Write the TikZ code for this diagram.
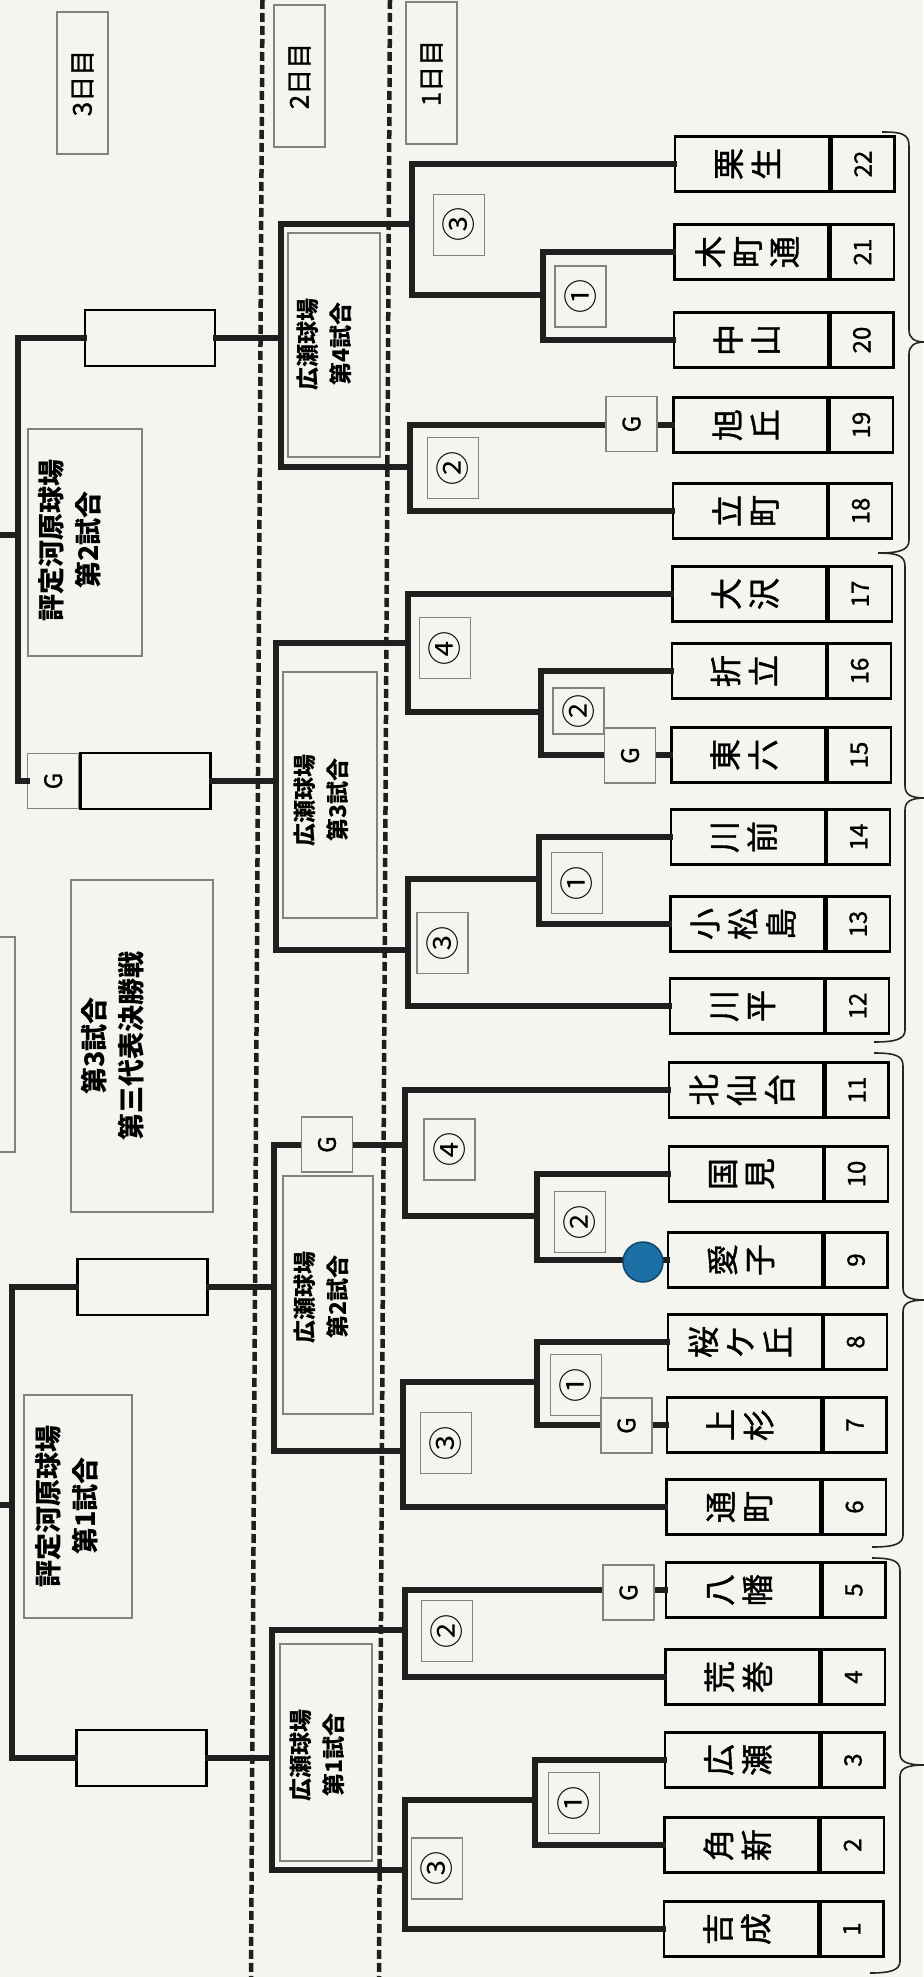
\documentclass[tikz,border=0pt]{standalone}
\usepackage{fontspec}
\setmainfont{Noto Sans CJK JP}
\newfontfamily\heavyjp[FakeBold=1.2]{Noto Sans CJK JP}
\usepackage{tikz}
\usetikzlibrary{positioning}
\definecolor{paper}{RGB}{245,244,239}
\definecolor{boxgray}{RGB}{130,130,130}
\definecolor{dotblue}{RGB}{28,112,166}
\definecolor{dotedge}{RGB}{15,70,110}
\newcommand{\tate}[1]{\rotatebox{90}{\begin{tabular}{@{}c@{}}#1\end{tabular}}}
\newcommand{\yoko}[1]{\rotatebox{90}{#1}}
\tikzset{
  bracket/.style={line width=6pt, line join=miter, line cap=rect, color=black!88},
  teamname/.style={draw, line width=2.4pt, fill=paper, minimum width=154pt, minimum height=55pt, inner sep=0pt, font=\heavyjp\fontsize{32}{37}\selectfont},
  teamnum/.style={draw, line width=2.4pt, fill=paper, minimum width=63pt, minimum height=55pt, inner sep=0pt, font=\heavyjp\fontsize{24}{26}\selectfont},
  matchbox/.style={draw=boxgray, line width=1.2pt, fill=paper, minimum width=51pt, minimum height=61pt, inner sep=0pt, font=\fontsize{34}{36}\selectfont},
  gbox/.style={draw=boxgray, line width=1.2pt, fill=paper, minimum width=51pt, minimum height=55pt, inner sep=0pt, font=\heavyjp\fontsize{24}{26}\selectfont},
  resultbox/.style={draw, line width=2.4pt, fill=paper, minimum width=130pt, minimum height=56pt, inner sep=0pt},
  venuebox/.style={draw=boxgray, line width=1.2pt, inner sep=0pt},
  venuetext/.style={inner sep=0pt, font=\fontsize{23}{33}\selectfont\bfseries},
  mainvenue/.style={inner sep=0pt, font=\fontsize{27}{37}\selectfont\bfseries},
  daybox/.style={draw=boxgray, line width=1.2pt, fill=paper, minimum width=51pt, minimum height=142pt, inner sep=0pt, font=\heavyjp\fontsize{26}{28}\selectfont},
  daysplit/.style={line width=4.5pt, dash pattern=on 9pt off 4pt, color=black!88},
  groupbrace/.style={line width=1.6pt, color=black!85},
  bluedot/.style={circle, fill=dotblue, draw=dotedge, line width=1.5pt, minimum size=40pt, inner sep=0pt}
}

\begin{document}
\begin{tikzpicture}[x=1pt, y=-1pt]

\fill[paper] (0,0) rectangle (923,1977);
\useasboundingbox (0,0) rectangle (923,1977);

\draw[daysplit] (262.5,0) -- (251,1977);
\draw[daysplit] (390,0) -- (379,1977);

\node[daybox] (d3) at (82.5,83) {\yoko{3日目}};
\node[daybox] (d2) at (299.5,76) {\yoko{2日目}};
\node[daybox] (d1) at (431.5,73) {\yoko{1日目}};

% teams
\node[teamname] (t22) at (752.0,164) {\tate{栗\\生}};
\node[teamnum, right=0pt of t22] (n22) {\yoko{22}};
\node[teamname] (t21) at (751.5,252) {\tate{木\\町\\通}};
\node[teamnum, right=0pt of t21] (n21) {\yoko{21}};
\node[teamname] (t20) at (750.9,340) {\tate{中\\山}};
\node[teamnum, right=0pt of t20] (n20) {\yoko{20}};
\node[teamname] (t19) at (750.4,425) {\tate{旭\\丘}};
\node[teamnum, right=0pt of t19] (n19) {\yoko{19}};
\node[teamname] (t18) at (749.8,511) {\tate{立\\町}};
\node[teamnum, right=0pt of t18] (n18) {\yoko{18}};
\node[teamname] (t17) at (749.3,594) {\tate{大\\沢}};
\node[teamnum, right=0pt of t17] (n17) {\yoko{17}};
\node[teamname] (t16) at (748.8,671) {\tate{折\\立}};
\node[teamnum, right=0pt of t16] (n16) {\yoko{16}};
\node[teamname] (t15) at (748.3,755) {\tate{東\\六}};
\node[teamnum, right=0pt of t15] (n15) {\yoko{15}};
\node[teamname] (t14) at (747.8,837) {\tate{川\\前}};
\node[teamnum, right=0pt of t14] (n14) {\yoko{14}};
\node[teamname] (t13) at (747.3,924) {\tate{小\\松\\島}};
\node[teamnum, right=0pt of t13] (n13) {\yoko{13}};
\node[teamname] (t12) at (746.8,1006) {\tate{川\\平}};
\node[teamnum, right=0pt of t12] (n12) {\yoko{12}};
\node[teamname] (t11) at (746.2,1090) {\tate{北\\仙\\台}};
\node[teamnum, right=0pt of t11] (n11) {\yoko{11}};
\node[teamname] (t10) at (745.7,1174) {\tate{国\\見}};
\node[teamnum, right=0pt of t10] (n10) {\yoko{10}};
\node[teamname] (t9) at (745.2,1260) {\tate{愛\\子}};
\node[teamnum, right=0pt of t9] (n9) {\yoko{9}};
\node[teamname] (t8) at (744.7,1342) {\tate{桜\\ケ\\丘}};
\node[teamnum, right=0pt of t8] (n8) {\yoko{8}};
\node[teamname] (t7) at (744.1,1425) {\tate{上\\杉}};
\node[teamnum, right=0pt of t7] (n7) {\yoko{7}};
\node[teamname] (t6) at (743.6,1507) {\tate{通\\町}};
\node[teamnum, right=0pt of t6] (n6) {\yoko{6}};
\node[teamname] (t5) at (743.1,1590) {\tate{八\\幡}};
\node[teamnum, right=0pt of t5] (n5) {\yoko{5}};
\node[teamname] (t4) at (742.6,1677) {\tate{荒\\巻}};
\node[teamnum, right=0pt of t4] (n4) {\yoko{4}};
\node[teamname] (t3) at (742.1,1760) {\tate{広\\瀬}};
\node[teamnum, right=0pt of t3] (n3) {\yoko{3}};
\node[teamname] (t2) at (741.5,1845) {\tate{角\\新}};
\node[teamnum, right=0pt of t2] (n2) {\yoko{2}};
\node[teamname] (t1) at (741.0,1929) {\tate{吉\\成}};
\node[teamnum, right=0pt of t1] (n1) {\yoko{1}};

% venues
\node[venuebox, minimum width=92pt, minimum height=224pt] (v4) at (334,345) {};
\node[venuetext] (v4t) at (326,344) {\tate{広瀬球場\\第4試合}};
\node[venuebox, minimum width=94pt, minimum height=246pt] (v3) at (330,795) {};
\node[venuetext] (v3t) at (323,800) {\tate{広瀬球場\\第3試合}};
\node[venuebox, minimum width=90pt, minimum height=238pt] (v2) at (328,1295) {};
\node[venuetext] (v2t) at (323,1297) {\tate{広瀬球場\\第2試合}};
\node[venuebox, minimum width=92pt, minimum height=217pt] (v1) at (326,1752.5) {};
\node[venuetext] (v1t) at (319,1755) {\tate{広瀬球場\\第1試合}};

\node[venuebox, minimum width=114pt, minimum height=227pt] (h2) at (85,542.5) {};
\node[mainvenue] (h2t) at (73,540) {\tate{評定河原球場\\第2試合}};
\node[venuebox, minimum width=108pt, minimum height=223pt] (h1) at (78,1506.5) {};
\node[mainvenue] (h1t) at (69.5,1506) {\tate{評定河原球場\\第1試合}};
\node[venuebox, minimum width=142pt, minimum height=332pt] (h3) at (142,1046) {};
\node[mainvenue] (h3t) at (116,1046) {\tate{第3試合\\第三代表決勝戦}};
\draw[draw=boxgray, line width=1.2pt] (-20,937) rectangle (15,1152);

% winners
\node[resultbox] (r4) at (150,338) {};
\node[resultbox] (r3) at (145.5,781) {};
\node[gbox, left=0pt of r3] (g3f) {\yoko{G}};
\node[resultbox] (r2) at (142.5,1287) {};
\node[resultbox] (r1) at (141.5,1758) {};

% section 4
\coordinate (j4a) at (543,295);
\coordinate (j4c) at (412,224);
\coordinate (j4b) at (410,467);
\coordinate (j4) at (281,338);
\draw[bracket] (t21.west) -| (j4a) |- (t20.west);
\draw[bracket] (t22.west) -| (j4c) |- (j4a);
\draw[bracket] (t19.west) -| (j4b) |- (t18.west);
\draw[bracket] (j4c) -| (j4) |- (j4b);
\draw[bracket] (j4) -- (r4.east);

% section 3
\coordinate (j3a) at (539,879);
\coordinate (j3b) at (541,712);
\coordinate (j3d) at (408,643);
\coordinate (j3c) at (408,950);
\coordinate (j3) at (276,781);
\draw[bracket] (t14.west) -| (j3a) |- (t13.west);
\draw[bracket] (t16.west) -| (j3b) |- (t15.west);
\draw[bracket] (t17.west) -| (j3d) |- (j3b);
\draw[bracket] (j3a) -| (j3c) |- (t12.west);
\draw[bracket] (j3d) -| (j3) |- (j3c);
\draw[bracket] (j3) -- (r3.east);

% section 2
\coordinate (j2a) at (537,1382);
\coordinate (j2b) at (537,1216);
\coordinate (j2d) at (405,1145);
\coordinate (j2c) at (403,1451);
\coordinate (j2) at (274,1287);
\draw[bracket] (t8.west) -| (j2a) |- (t7.west);
\draw[bracket] (t10.west) -| (j2b) |- (t9.west);
\draw[bracket] (t11.west) -| (j2d) |- (j2b);
\draw[bracket] (j2a) -| (j2c) |- (t6.west);
\draw[bracket] (j2d) -| (j2) |- (j2c);
\draw[bracket] (j2) -- (r2.east);

% section 1
\coordinate (j1a) at (535,1800);
\coordinate (j1c) at (405,1870);
\coordinate (j1b) at (405,1630);
\coordinate (j1) at (272,1758);
\draw[bracket] (t3.west) -| (j1a) |- (t2.west);
\draw[bracket] (j1a) -| (j1c) |- (t1.west);
\draw[bracket] (t5.west) -| (j1b) |- (t4.west);
\draw[bracket] (j1b) -| (j1) |- (j1c);
\draw[bracket] (j1) -- (r1.east);

% finals
\coordinate (f2) at (18,535);
\coordinate (f2end) at (0,535);
\draw[bracket] (r4.west) -| (f2) |- (g3f.west);
\draw[bracket] (f2) -- (f2end);
\coordinate (f1) at (12,1505);
\coordinate (f1end) at (0,1505);
\draw[bracket] (r2.west) -| (f1) |- (r1.west);
\draw[bracket] (f1) -- (f1end);

% match numbers
\node[matchbox] (m4a) at (580.5,296.5) {\yoko{①}};
\node[matchbox] (m4c) at (459,225) {\yoko{③}};
\node[matchbox] (m4b) at (453,468) {\yoko{②}};
\node[matchbox] (m3a) at (577,883) {\yoko{①}};
\node[matchbox, minimum height=46pt] (m3b) at (578.5,711) {\yoko{②}};
\node[matchbox] (m3d) at (445,648) {\yoko{④}};
\node[matchbox] (m3c) at (442.5,943) {\yoko{③}};
\node[matchbox] (m2a) at (576,1385) {\yoko{①}};
\node[matchbox] (m2b) at (580,1222) {\yoko{②}};
\node[matchbox] (m2d) at (449.5,1149.5) {\yoko{④}};
\node[matchbox] (m2c) at (446,1443) {\yoko{③}};
\node[matchbox] (m1a) at (574,1803) {\yoko{①}};
\node[matchbox] (m1c) at (437,1868.5) {\yoko{③}};
\node[matchbox] (m1b) at (447,1631) {\yoko{②}};

\node[gbox] (g19) at (631.5,424) {\yoko{G}};
\node[gbox] (g15) at (630,755.5) {\yoko{G}};
\node[gbox] (g7) at (626.5,1425.5) {\yoko{G}};
\node[gbox] (g5) at (628.5,1592.5) {\yoko{G}};
\node[gbox] (g2d) at (327,1144.5) {\yoko{G}};

\node[bluedot] (dot9) at (643,1262) {};

% groups
\draw[groupbrace] (882,132) .. controls (902,132) and (909,134) .. (909,146) -- (909,330) .. controls (909,338) and (914,342) .. (925,342) .. controls (914,342) and (909,346) .. (909,354) -- (909,540) .. controls (909,550) and (900,553) .. (878,553);
\draw[groupbrace] (878,553) .. controls (898,553) and (905,556) .. (905,566) -- (905,786) .. controls (905,794) and (910,798) .. (925,798) .. controls (910,798) and (905,802) .. (905,810) -- (905,1030) .. controls (905,1039) and (896,1042) .. (874,1042);
\draw[groupbrace] (874,1053) .. controls (896,1053) and (903,1056) .. (903,1066) -- (903,1288) .. controls (903,1296) and (908,1300) .. (925,1300) .. controls (908,1300) and (903,1304) .. (903,1312) -- (903,1535) .. controls (903,1544) and (894,1547) .. (872,1547);
\draw[groupbrace] (872,1558) .. controls (893,1558) and (900,1561) .. (900,1571) -- (900,1753) .. controls (900,1761) and (905,1765) .. (925,1765) .. controls (905,1765) and (900,1769) .. (900,1777) -- (900,1961) .. controls (900,1970) and (891,1973) .. (870,1973);

\end{tikzpicture}
\end{document}
